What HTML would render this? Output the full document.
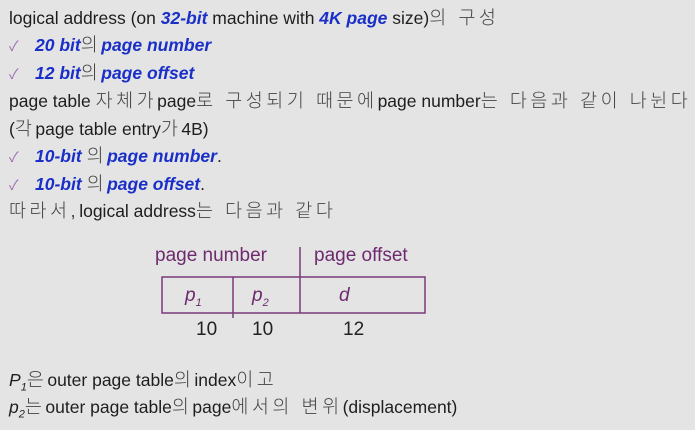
<!DOCTYPE html>
<html><head><meta charset="utf-8"><style>
body{margin:0;width:695px;height:430px;background:#e4e4e4;overflow:hidden;position:relative;font-family:"Liberation Sans","Noto Sans CJK KR",sans-serif;color:#1e1e1e;font-size:17.5px}
.l{position:absolute;left:9px;white-space:nowrap;line-height:20px}
.b{color:#1a2fc8;font-weight:bold;font-style:italic}
.k{color:#444;letter-spacing:3.5px;font-weight:300;font-size:18.5px}
.c{color:#9a6ab0;font-size:14px;display:inline-block;width:26px}
.d{position:absolute;color:#6e2a6e;white-space:nowrap;font-size:19px}
.i{font-style:italic}
</style></head><body>
<div class="l" style="top:8px">logical address (on <span class="b">32-bit</span> machine with <span class="b">4K page</span> size)<span class="k">의 구성</span></div>
<div class="l" style="top:35px"><span class="c">✓</span><span class="b">20 bit</span><span class="k">의</span><span class="b">page number</span></div>
<div class="l" style="top:63px"><span class="c">✓</span><span class="b">12 bit</span><span class="k">의</span><span class="b">page offset</span></div>
<div class="l" style="top:91px">page table <span class="k">자체가</span>page<span class="k">로 구성되기 때문에</span>page number<span class="k">는 다음과 같이 나뉜다</span></div>
<div class="l" style="top:119px">(<span class="k">각</span>page table entry<span class="k">가</span>4B)</div>
<div class="l" style="top:146px"><span class="c">✓</span><span class="b">10-bit</span> <span class="k">의</span><span class="b">page number</span>.</div>
<div class="l" style="top:174px"><span class="c">✓</span><span class="b">10-bit</span> <span class="k">의</span><span class="b">page offset</span>.</div>
<div class="l" style="top:201px"><span class="k">따라서,</span>logical address<span class="k">는 다음과 같다</span></div>
<svg style="position:absolute;left:0;top:0" width="695" height="430">
<rect x="162" y="277" width="263" height="36" fill="none" stroke="#7a3a7a" stroke-width="1.5"/>
<line x1="233" y1="277" x2="233" y2="318" stroke="#7a3a7a" stroke-width="1.5"/>
<line x1="300" y1="247" x2="300" y2="313" stroke="#7a3a7a" stroke-width="1.5"/>
</svg>
<div class="d" style="left:155px;top:245px">page number</div>
<div class="d" style="left:314px;top:245px">page offset</div>
<div class="d i" style="left:185px;top:285px">p<sub style="font-size:11px">1</sub></div>
<div class="d i" style="left:252px;top:285px">p<sub style="font-size:11px">2</sub></div>
<div class="d i" style="left:339px;top:285px">d</div>
<div class="d" style="left:196px;top:319px;color:#222">10</div>
<div class="d" style="left:252px;top:319px;color:#222">10</div>
<div class="d" style="left:343px;top:319px;color:#222">12</div>
<div class="l" style="top:370px"><span class="i">P<sub style="font-size:11px">1</sub></span><span class="k">은</span>outer page table<span class="k">의</span>index<span class="k">이고</span></div>
<div class="l" style="top:397px"><span class="i">p<sub style="font-size:11px">2</sub></span><span class="k">는</span>outer page table<span class="k">의</span>page<span class="k">에서의 변위</span>(displacement)</div>
</body></html>
